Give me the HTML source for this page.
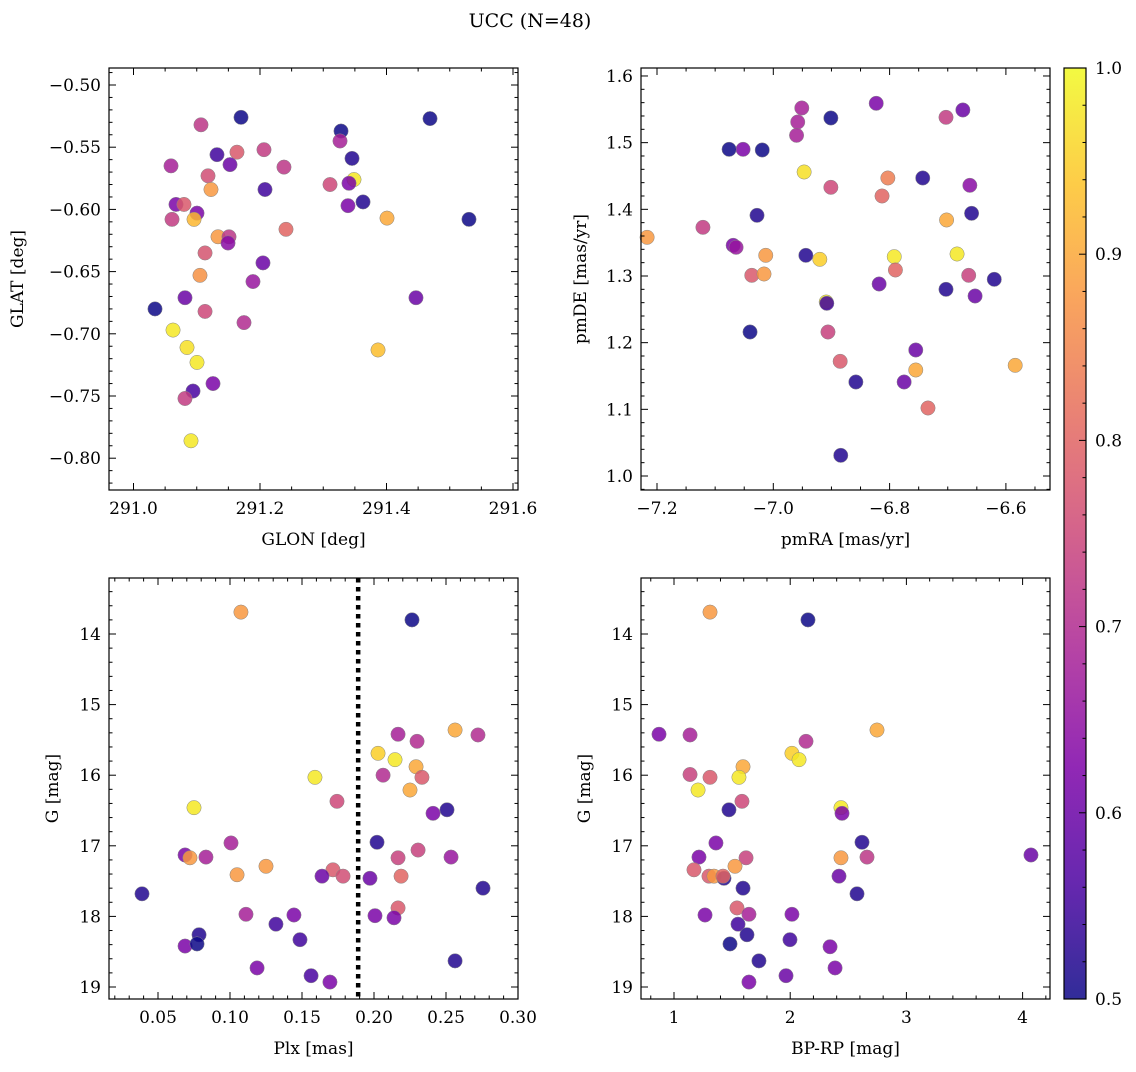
<!DOCTYPE html>
<html><head><meta charset="utf-8"><style>
html,body{margin:0;padding:0;background:#fff;}
svg text{font-family:"DejaVu Serif","Liberation Serif",serif;fill:#000;}
</style></head><body>
<svg id="fig" width="1136" height="1067" xmlns="http://www.w3.org/2000/svg">
<defs>
<linearGradient id="cbgrad" x1="0" y1="1" x2="0" y2="0"></linearGradient>
</defs>
<text x="530" y="27" font-size="19" text-anchor="middle">UCC (N=48)</text>
</svg>
<script>
// Panel 1 data
const glon=[291.1067,291.170,291.4688,291.3281,291.3265,291.3455,291.132,291.2063,291.1636,291.0593,291.1526,291.2379,291.1178,291.3486,291.3407,291.3107,291.1225,291.2079,291.3629,291.3391,291.0672,291.0798,291.1004,291.0957,291.0609,291.4008,291.5304,291.1336,291.151,291.1494,291.2411,291.1131,291.2047,291.1051,291.1889,291.034,291.0814,291.4466,291.1131,291.1747,291.0625,291.0846,291.3866,291.1004,291.1257,291.0941,291.0814,291.0909];
const glat=[-0.532,-0.526,-0.527,-0.537,-0.545,-0.559,-0.556,-0.552,-0.554,-0.565,-0.564,-0.566,-0.573,-0.576,-0.579,-0.580,-0.584,-0.584,-0.594,-0.597,-0.596,-0.596,-0.603,-0.608,-0.608,-0.607,-0.608,-0.622,-0.622,-0.627,-0.616,-0.635,-0.643,-0.653,-0.658,-0.680,-0.671,-0.671,-0.682,-0.691,-0.697,-0.711,-0.713,-0.723,-0.740,-0.746,-0.752,-0.786];
const prob1=[0.72,0.5,0.5,0.5,0.68,0.52,0.55,0.73,0.78,0.68,0.6,0.72,0.76,0.98,0.62,0.75,0.88,0.55,0.52,0.62,0.62,0.78,0.62,0.92,0.73,0.9,0.5,0.88,0.72,0.64,0.8,0.77,0.6,0.87,0.66,0.5,0.6,0.6,0.75,0.7,0.98,0.97,0.93,0.98,0.62,0.56,0.73,0.98];
// Panel 2 data
const pmra=[-6.951,-6.823,-6.674,-6.958,-6.901,-6.703,-6.960,-7.052,-7.076,-7.019,-6.947,-6.743,-6.803,-6.901,-6.662,-6.813,-7.028,-6.659,-6.702,-7.121,-7.217,-7.069,-7.064,-6.944,-7.013,-6.792,-6.920,-6.684,-6.790,-6.664,-6.620,-7.037,-7.016,-6.818,-6.703,-6.653,-6.909,-6.908,-7.040,-6.906,-6.755,-6.885,-6.755,-6.584,-6.858,-6.775,-6.734,-6.884];
const pmde=[1.552,1.559,1.549,1.531,1.537,1.538,1.511,1.490,1.490,1.489,1.456,1.447,1.447,1.433,1.436,1.420,1.391,1.394,1.384,1.373,1.358,1.346,1.343,1.331,1.331,1.329,1.325,1.333,1.309,1.301,1.295,1.301,1.303,1.288,1.280,1.270,1.261,1.259,1.216,1.216,1.189,1.172,1.159,1.166,1.141,1.141,1.102,1.031];
const prob2=[0.68,0.62,0.6,0.68,0.5,0.73,0.68,0.62,0.5,0.5,0.97,0.52,0.84,0.75,0.64,0.8,0.52,0.52,0.9,0.73,0.88,0.62,0.66,0.52,0.88,0.98,0.95,0.98,0.8,0.74,0.52,0.78,0.88,0.6,0.52,0.6,0.98,0.55,0.5,0.74,0.6,0.78,0.9,0.9,0.52,0.6,0.8,0.52];
// Panel 3 data
const plx=[0.1076,0.2264,0.2563,0.2722,0.2167,0.2299,0.2028,0.2146,0.2292,0.159,0.2063,0.2333,0.225,0.1743,0.075,0.2507,0.241,0.1007,0.2021,0.2306,0.0688,0.0722,0.0833,0.2535,0.2167,0.125,0.1049,0.1715,0.1639,0.1785,0.1972,0.2188,0.0389,0.2757,0.2167,0.1111,0.1444,0.2007,0.2139,0.1319,0.0785,0.1486,0.0688,0.0771,0.1188,0.1563,0.1694,0.2563];
const gmag3=[13.69,13.80,15.36,15.43,15.42,15.52,15.69,15.78,15.88,16.03,16.00,16.03,16.21,16.37,16.46,16.49,16.54,16.96,16.95,17.06,17.13,17.17,17.16,17.16,17.17,17.29,17.41,17.34,17.43,17.43,17.46,17.43,17.68,17.60,17.88,17.97,17.98,17.99,18.02,18.11,18.26,18.33,18.42,18.39,18.73,18.84,18.93,18.63];
const prob3=[0.88,0.5,0.9,0.7,0.68,0.7,0.95,0.98,0.9,0.98,0.7,0.78,0.9,0.75,0.98,0.52,0.62,0.68,0.52,0.74,0.62,0.88,0.68,0.66,0.74,0.88,0.88,0.78,0.6,0.76,0.6,0.8,0.52,0.52,0.78,0.68,0.62,0.62,0.62,0.55,0.52,0.55,0.62,0.5,0.62,0.56,0.62,0.52];
// Panel 4 data
const bprp=[1.31,2.153,0.871,1.138,2.136,2.015,2.076,1.594,2.747,1.138,1.31,1.559,1.207,1.585,2.437,1.473,2.446,1.361,2.618,1.215,1.62,2.437,2.661,4.072,1.172,1.525,1.301,1.344,1.43,1.422,2.42,1.594,2.575,1.542,1.267,1.645,2.015,1.551,1.628,1.998,1.482,2.343,2.386,1.731,1.964,1.645];
const gmag4=[13.69,13.80,15.42,15.43,15.52,15.69,15.78,15.88,15.36,15.99,16.03,16.03,16.21,16.37,16.46,16.49,16.54,16.96,16.95,17.16,17.17,17.17,17.16,17.13,17.34,17.29,17.43,17.43,17.46,17.43,17.43,17.60,17.68,17.88,17.98,17.97,17.97,18.11,18.26,18.33,18.39,18.43,18.73,18.63,18.84,18.93];
const prob4=[0.88,0.5,0.62,0.68,0.7,0.95,0.98,0.9,0.9,0.74,0.78,0.98,0.98,0.75,0.98,0.52,0.62,0.62,0.52,0.62,0.74,0.88,0.72,0.6,0.78,0.88,0.78,0.88,0.52,0.8,0.6,0.52,0.52,0.78,0.62,0.68,0.62,0.55,0.52,0.55,0.5,0.62,0.62,0.52,0.6,0.62];
const cbTicks=[0.5,0.6,0.7,0.8,0.9,1.0];

const NS="http://www.w3.org/2000/svg";
const svg=document.getElementById('fig');
const FS=17;
function mk(tag,attrs,parent){const e=document.createElementNS(NS,tag);for(const k in attrs)e.setAttribute(k,attrs[k]);(parent||svg).appendChild(e);return e;}
const stops=[[13,8,135],[76,2,161],[126,3,168],[169,35,149],[204,71,120],[229,107,93],[248,148,65],[253,195,40],[240,249,33]];
function plasma(t){t=Math.max(0,Math.min(1,t));const s=t*8,i=Math.min(7,Math.floor(s)),f=s-i;const a=stops[i],b=stops[i+1];return 'rgb('+a.map((v,k)=>Math.round(v+(b[k]-v)*f)).join(',')+')';}
function col(p){return plasma((p-0.5)/0.5);}

function panel(o){
  const g=mk('g',{});
  
  
  const sx=v=>o.x0+(v-o.xd[0])/(o.xd[1]-o.xd[0])*(o.x1-o.x0);
  const sy=v=>o.y1-(v-o.yd[0])/(o.yd[1]-o.yd[0])*(o.y1-o.y0);
  for(let i=0;i<o.xs.length;i++){
    const c=mk('circle',{cx:sx(o.xs[i]),cy:sy(o.ys[i]),r:7.2,fill:col(o.cs[i]),'fill-opacity':0.85,stroke:'#888','stroke-width':0.5},g);
    
    
  }
  if(o.vline!==undefined){
    const l=mk('line',{x1:sx(o.vline),x2:sx(o.vline),y1:o.y0,y2:o.y1,stroke:'#000','stroke-width':4.5,'stroke-dasharray':'4.5,4.5'},g);
    
    
  }
  const fr=mk('rect',{x:o.x0,y:o.y0,width:o.x1-o.x0,height:o.y1-o.y0,fill:'none',stroke:'#000','stroke-width':1.2},g);
  
  
  const eps=1e-9;
  const xlo=Math.min(...o.xd),xhi=Math.max(...o.xd),ylo=Math.min(...o.yd),yhi=Math.max(...o.yd);
  for(let v=Math.ceil(xlo/o.xmin-eps)*o.xmin;v<=xhi+eps;v+=o.xmin){
    const X=sx(v);const maj=Math.abs(v/o.xmaj-Math.round(v/o.xmaj))<1e-6;const L=maj?7:3.5;
    mk('line',{x1:X,x2:X,y1:o.y1,y2:o.y1-L,stroke:'#000','stroke-width':1},g);
    mk('line',{x1:X,x2:X,y1:o.y0,y2:o.y0+L,stroke:'#000','stroke-width':1},g);
  }
  o.xt.forEach((v,i)=>{const t=mk('text',{x:sx(v),y:o.y1+24,'font-size':FS,'text-anchor':'middle'},g);t.textContent=o.xl[i];
    });
  for(let v=Math.ceil(ylo/o.ymin-eps)*o.ymin;v<=yhi+eps;v+=o.ymin){
    const Y=sy(v);const maj=Math.abs(v/o.ymaj-Math.round(v/o.ymaj))<1e-6;const L=maj?7:3.5;
    mk('line',{x1:o.x0,x2:o.x0+L,y1:Y,y2:Y,stroke:'#000','stroke-width':1},g);
    mk('line',{x1:o.x1,x2:o.x1-L,y1:Y,y2:Y,stroke:'#000','stroke-width':1},g);
  }
  o.yt.forEach((v,i)=>{const t=mk('text',{x:o.x0-8,y:sy(v)+6,'font-size':FS,'text-anchor':'end'},g);t.textContent=o.yl[i];
    });
  const xt=mk('text',{x:(o.x0+o.x1)/2,y:o.y1+55,'font-size':FS,'text-anchor':'middle'},g);xt.textContent=o.xlab;
  
  const yx=o.ylx, yy=(o.y0+o.y1)/2;
  const yt=mk('text',{x:yx,y:yy,'font-size':FS,'text-anchor':'middle',transform:'rotate(-90 '+yx+' '+yy+')'},g);yt.textContent=o.ylab;
  
}
const minus=s=>s.replace('-','\u2212');
panel({name:'glon-glat-panel',x0:109,x1:518,y0:68,y1:490,xd:[291+(109-133.5)/632.5,291+(518-133.5)/632.5],yd:[-0.5-(490-85)/1244,-0.5+(85-68)/1244],
  xs:glon,ys:glat,cs:prob1,xmaj:0.2,xmin:0.05,ymaj:0.05,ymin:0.01,
  xt:[291.0,291.2,291.4,291.6],xl:['291.0','291.2','291.4','291.6'],
  yt:[-0.5,-0.55,-0.6,-0.65,-0.7,-0.75,-0.8],yl:['-0.50','-0.55','-0.60','-0.65','-0.70','-0.75','-0.80'].map(minus),
  xlab:'GLON [deg]',ylab:'GLAT [deg]',ylx:23});
panel({name:'pm-panel',x0:641,x1:1050,y0:68,y1:490,xd:[-7.2+(641-657)/581.5,-7.2+(1050-657)/581.5],yd:[1.0-(490-476)/666.7,1.0+(476-68)/666.7],
  xs:pmra,ys:pmde,cs:prob2,xmaj:0.2,xmin:0.05,ymaj:0.1,ymin:0.02,
  xt:[-7.2,-7.0,-6.8,-6.6],xl:['-7.2','-7.0','-6.8','-6.6'].map(minus),
  yt:[1.0,1.1,1.2,1.3,1.4,1.5,1.6],yl:['1.0','1.1','1.2','1.3','1.4','1.5','1.6'],
  xlab:'pmRA [mas/yr]',ylab:'pmDE [mas/yr]',ylx:586});
// inverted magnitude axis: bottom value first
const gyd=[14+(999-634)/70.6,14+(578-634)/70.6];
panel({name:'plx-g-panel',x0:109,x1:518,y0:578,y1:999,xd:[(109-86)/1440,(518-86)/1440],yd:gyd,
  xs:plx,ys:gmag3,cs:prob3,xmaj:0.05,xmin:0.01,ymaj:1,ymin:0.2,vline:0.189,
  xt:[0.05,0.1,0.15,0.2,0.25,0.3],xl:['0.05','0.10','0.15','0.20','0.25','0.30'],
  yt:[14,15,16,17,18,19],yl:['14','15','16','17','18','19'],
  xlab:'Plx [mas]',ylab:'G [mag]',ylx:58});
panel({name:'cmd-panel',x0:641,x1:1050,y0:578,y1:999,xd:[1+(641-674)/116.2,1+(1050-674)/116.2],yd:gyd,
  xs:bprp,ys:gmag4,cs:prob4,xmaj:1,xmin:0.2,ymaj:1,ymin:0.2,
  xt:[1,2,3,4],xl:['1','2','3','4'],
  yt:[14,15,16,17,18,19],yl:['14','15','16','17','18','19'],
  xlab:'BP-RP [mag]',ylab:'G [mag]',ylx:590});
// colorbar
const grad=document.getElementById('cbgrad');
for(let i=0;i<=16;i++){mk('stop',{offset:(i/16),'stop-color':plasma(i/16)},grad);}
const cb=mk('g',{});


const cx0=1064,cx1=1086,cy0=68,cy1=999;
mk('rect',{x:cx0,y:cy0,width:cx1-cx0,height:cy1-cy0,fill:'url(#cbgrad)','fill-opacity':0.85},cb);
mk('rect',{x:cx0,y:cy0,width:cx1-cx0,height:cy1-cy0,fill:'none',stroke:'#000','stroke-width':1.2},cb);
const cy=v=>cy1-(v-0.5)/0.5*(cy1-cy0);
for(let k=0;k<=25;k++){const v=0.5+k*0.02;const maj=k%5===0;const L=maj?7:3.5;
  mk('line',{x1:cx1,x2:cx1-L,y1:cy(v),y2:cy(v),stroke:'#000','stroke-width':1},cb);}
cbTicks.forEach(v=>{const t=mk('text',{x:cx1+9,y:cy(v)+6,'font-size':FS},cb);t.textContent=v.toFixed(1);
  });
</script>
</body></html>
